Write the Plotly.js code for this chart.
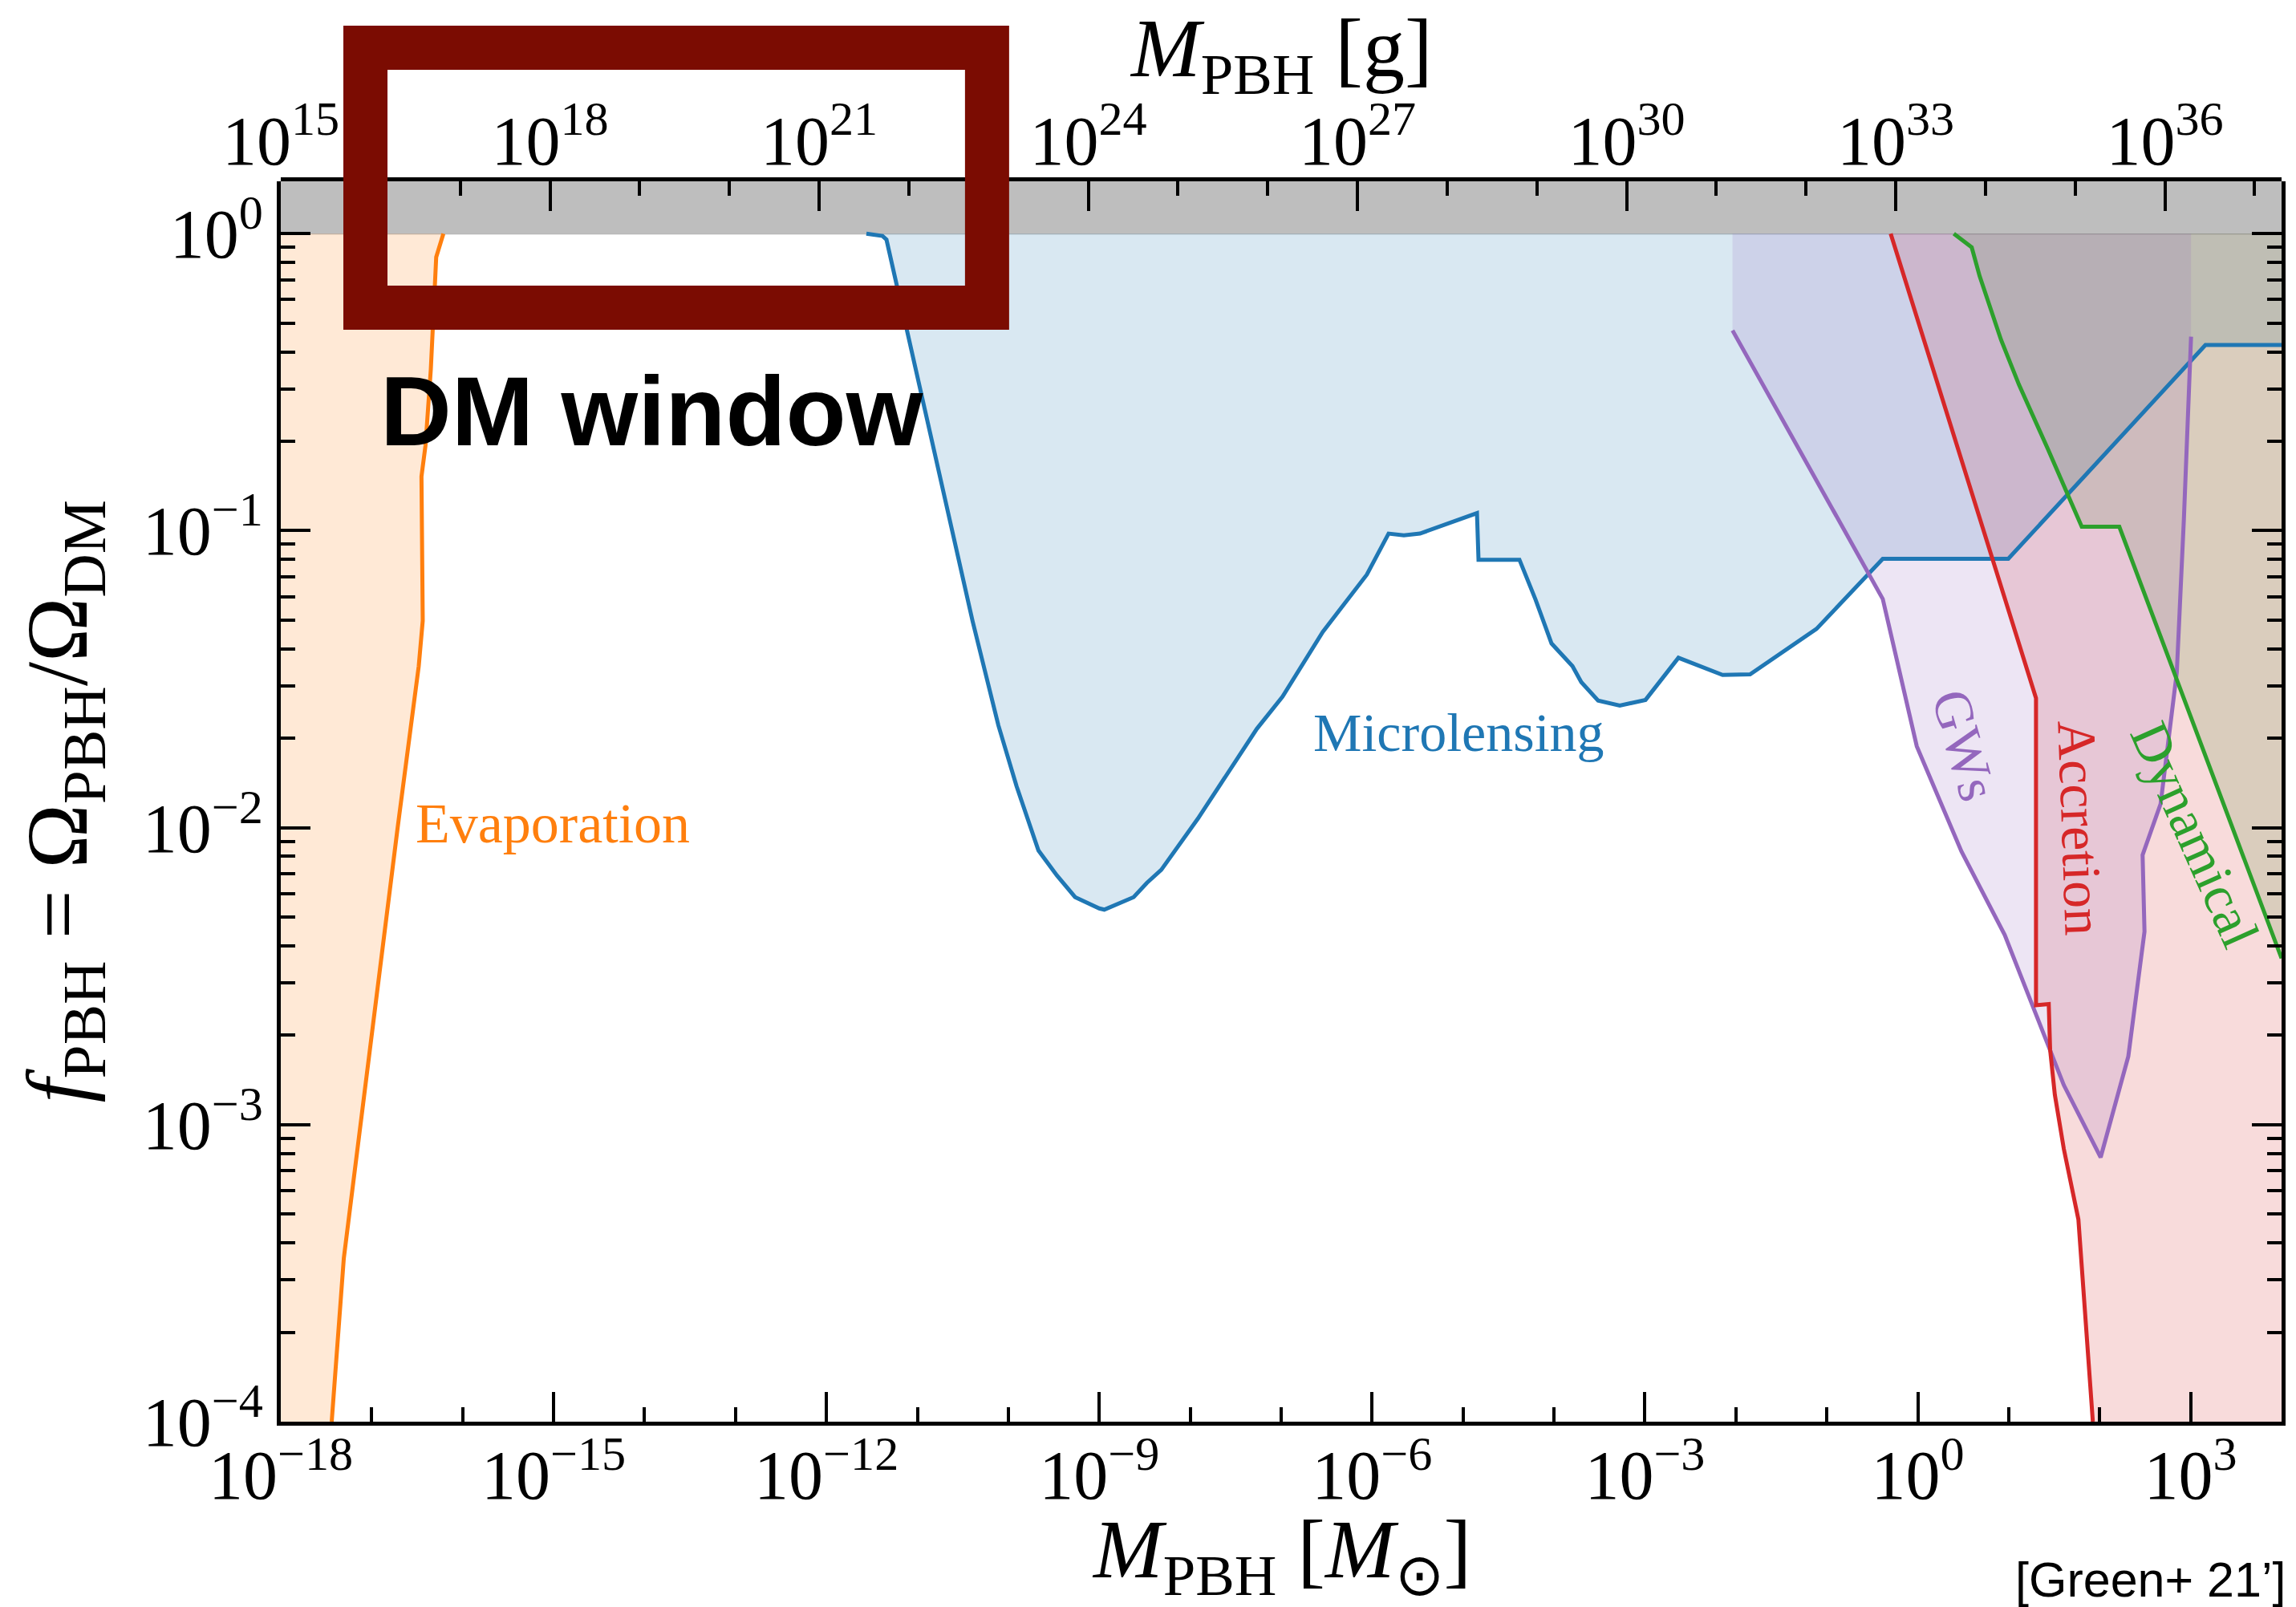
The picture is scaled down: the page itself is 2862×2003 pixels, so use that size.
<!DOCTYPE html>
<html>
<head>
<meta charset="utf-8">
<script src="https://cdn.plot.ly/plotly-3.0.1.min.js"></script>
<style>
html, body { margin: 0; padding: 0; background: #ffffff; }
#chart { width: 2862px; height: 2003px; }
</style>
</head>
<body>
<div id="chart"></div>
<script>
// ---------------- DATA (log10 values) ----------------
// x: log10(M_PBH / M_sun), y: log10(f_PBH)
const evapLogM = [-16.212, -16.291, -16.306, -16.350, -16.409, -16.453, -16.439, -16.483, -16.715, -17.015, -17.307, -17.440];
const evapLogF = [0.000, -0.079, -0.176, -0.456, -0.714, -0.818, -1.303, -1.456, -2.000, -2.726, -3.450, -4.000];

const mlLogM = [-11.561, -11.384, -11.340, -10.802, -10.393, -10.110, -9.910, -9.669, -9.466, -9.266, -9.000, -8.945, -8.622, -8.477, -8.318, -7.912, -7.629, -7.267, -6.985, -6.543, -6.058, -5.819, -5.651, -5.474, -4.847, -4.830, -4.380, -4.203, -4.027, -3.797, -3.700, -3.515, -3.277, -2.994, -2.632, -2.146, -1.844, -1.114, -0.385, 0.995, 3.163, 4.000];
const mlLogF = [0.000, -0.008, -0.020, -0.749, -1.305, -1.655, -1.860, -2.077, -2.161, -2.234, -2.272, -2.276, -2.234, -2.186, -2.142, -1.968, -1.836, -1.667, -1.559, -1.341, -1.148, -1.010, -1.016, -1.010, -0.941, -1.098, -1.098, -1.232, -1.380, -1.456, -1.510, -1.572, -1.589, -1.570, -1.428, -1.486, -1.484, -1.331, -1.095, -1.095, -0.375, -0.375];

const gwLogM = [-2.037, -0.385, -0.011, 0.480, 0.956, 1.448, 1.606, 2.011, 2.315, 2.493, 2.472, 2.670, 2.848, 2.926, 3.005];
const gwLogF = [-0.326, -1.230, -1.726, -2.080, -2.361, -2.749, -2.867, -3.110, -2.770, -2.350, -2.092, -1.920, -1.478, -0.961, -0.347];

const accLogM = [-0.298, 1.300, 1.300, 1.440, 1.455, 1.507, 1.606, 1.766, 1.925];
const accLogF = [0.000, -1.564, -2.598, -2.594, -2.747, -2.899, -3.082, -3.319, -4.000];

const dynLogM = [0.396, 0.593, 0.680, 0.916, 1.113, 1.429, 1.803, 2.216, 4.000];
const dynLogF = [0.000, -0.046, -0.143, -0.358, -0.509, -0.724, -0.987, -0.987, -2.440];

// excluded band f_PBH > 1
const excludedBand = [1, 1.5];

// axis ranges (log10) and tick exponents
const xRangeLog = [-18, 4];
const x2RangeLog = [15, 37.3];
const yRangeLog = [-4, Math.log10(1.5)];
const xMajorExp = [-18, -15, -12, -9, -6, -3, 0, 3];
const x2MajorExp = [15, 18, 21, 24, 27, 30, 33, 36];
const yMajorExp = [-4, -3, -2, -1, 0];

// constraint labels
const labelTexts = ['Evaporation', 'Microlensing', 'GWs', 'Accretion', 'Dynamical'];

// ---------------- BUILD ----------------
const p10 = a => a.map(v => Math.pow(10, v));
const supLabel = e => '10<sup>' + (e < 0 ? '\u2212' + (-e) : String(e)) + '</sup>';

function range(a, b) { const r = []; for (let i = a; i <= b; i++) r.push(i); return r; }
const xMinorVals = p10(range(xRangeLog[0], xRangeLog[1]));
const x2MinorVals = p10(range(15, 37));
const yMinorVals = [];
for (let e = yRangeLog[0]; e < 0; e++) for (let k = 2; k <= 9; k++) yMinorVals.push(k * Math.pow(10, e));

const C = {
  orange: '#ff7f0e', blue: '#1f77b4', green: '#2ca02c', red: '#d62728', purple: '#9467bd'
};
const A = 0.17;
const rgba = (hex, a) => {
  const n = parseInt(hex.slice(1), 16);
  return 'rgba(' + ((n >> 16) & 255) + ',' + ((n >> 8) & 255) + ',' + (n & 255) + ',' + a + ')';
};

function fillTrace(xs, ys, color, alpha) {
  return { type: 'scatter', mode: 'lines', x: p10(xs), y: p10(ys), fill: 'toself',
    fillcolor: rgba(color, alpha), line: { width: 0, color: 'rgba(0,0,0,0)' }, hoverinfo: 'skip', showlegend: false };
}
function lineTrace(xs, ys, color) {
  return { type: 'scatter', mode: 'lines', x: p10(xs), y: p10(ys),
    line: { width: 5, color: color }, hoverinfo: 'skip', showlegend: false };
}
const last = a => a[a.length - 1];
const bandLog = excludedBand.map(Math.log10);

const traces = [
  // grey excluded band (f_PBH > 1)
  fillTrace([xRangeLog[0], xRangeLog[1], xRangeLog[1], xRangeLog[0]], [bandLog[0], bandLog[0], bandLog[1], bandLog[1]], '#bebebe', 1),
  fillTrace(evapLogM.concat([xRangeLog[0], xRangeLog[0]]), evapLogF.concat([yRangeLog[0], 0]), C.orange, A),
  fillTrace(mlLogM.concat([last(mlLogM)]), mlLogF.concat([0]), C.blue, A),
  fillTrace(dynLogM.concat([last(dynLogM)]), dynLogF.concat([0]), C.green, A),
  fillTrace(accLogM.concat([xRangeLog[1], xRangeLog[1]]), accLogF.concat([yRangeLog[0], 0]), C.red, A),
  fillTrace(gwLogM.concat([last(gwLogM), gwLogM[0]]), gwLogF.concat([0, 0]), C.purple, A),
  lineTrace(evapLogM, evapLogF, C.orange),
  lineTrace(mlLogM, mlLogF, C.blue),
  lineTrace(gwLogM, gwLogF, C.purple),
  lineTrace(accLogM, accLogF, C.red),
  lineTrace(dynLogM, dynLogF, C.green),
  // invisible helper so that the gram (top) axis subplot is drawn
  { type: 'scatter', mode: 'lines', x: p10(x2RangeLog), y: [0, 1], xaxis: 'x2', yaxis: 'y2',
    line: { width: 0, color: 'rgba(0,0,0,0)' }, hoverinfo: 'skip', showlegend: false }
];

const serif = 'Liberation Serif, Times New Roman, serif';
const sans = 'Liberation Sans, Arial, Helvetica, sans-serif';
const tickFont = { family: serif, size: 86, color: '#000' };

const axisCommon = {
  type: 'log', tickmode: 'array', ticks: 'inside', ticklen: 37, tickwidth: 4, tickcolor: '#000',
  showline: true, linewidth: 5, linecolor: '#000', showgrid: false, zeroline: false, tickfont: tickFont,
  layer: 'above traces'
};
const minorCommon = { tickmode: 'array', ticks: 'inside', ticklen: 18, tickwidth: 4, tickcolor: '#000', showgrid: false };

const layout = {
  width: 2862, height: 2003,
  margin: { l: 350, r: 18, t: 226, b: 231, pad: 0 },
  paper_bgcolor: '#ffffff', plot_bgcolor: 'rgba(0,0,0,0)',
  showlegend: false,
  font: { family: serif, color: '#000' },
  xaxis: Object.assign({}, axisCommon, {
    range: xRangeLog, tickvals: p10(xMajorExp), ticktext: xMajorExp.map(supLabel), mirror: false,
    ticklabelstandoff: -12, domain: [0, 1], anchor: 'y',
    minor: Object.assign({ tickvals: xMinorVals }, minorCommon)
  }),
  xaxis2: Object.assign({}, axisCommon, {
    range: x2RangeLog, side: 'top', anchor: 'y2', domain: [0, 1], mirror: false,
    tickvals: p10(x2MajorExp), ticktext: x2MajorExp.map(supLabel),
    ticklabelstandoff: -18,
    minor: Object.assign({ tickvals: x2MinorVals }, minorCommon)
  }),
  yaxis: Object.assign({}, axisCommon, {
    range: yRangeLog, tickvals: p10(yMajorExp), ticktext: yMajorExp.map(supLabel), mirror: 'ticks',
    domain: [0, 1], anchor: 'x',
    minor: Object.assign({ tickvals: yMinorVals }, minorCommon)
  }),
  yaxis2: {
    domain: [0, 1], anchor: 'x2', range: [0, 1], visible: false, showline: false, showgrid: false,
    zeroline: false, showticklabels: false, ticks: ''
  },
  shapes: [
    { type: 'line', xref: 'paper', yref: 'y', x0: 0, x1: 1, y0: excludedBand[0], y1: excludedBand[0],
      line: { width: 2, color: 'rgba(150,150,150,0.7)' }, layer: 'below' },
    // hand-drawn highlight box around the DM window
    { type: 'rect', xref: 'paper', yref: 'paper', x0: 0.0423, x1: 0.3530, y0: 0.8981, y1: 1.1077,
      fillcolor: 'rgba(0,0,0,0)', line: { width: 55, color: '#7b0c02' }, layer: 'above' }
  ],
  annotations: [
    { xref: 'paper', yref: 'paper', x: 0.5, y: -0.108, xanchor: 'center', yanchor: 'middle', showarrow: false,
      text: '<i>M</i><sub>PBH</sub> [<i>M</i><sub>\u2299</sub>]', font: { family: serif, size: 104, color: '#000' } },
    { xref: 'paper', yref: 'paper', x: 0.5, y: 1.1025, xanchor: 'center', yanchor: 'middle', showarrow: false,
      text: '<i>M</i><sub>PBH</sub> [g]', font: { family: serif, size: 104, color: '#000' } },
    { xref: 'paper', yref: 'paper', x: -0.1085, y: 0.5, xanchor: 'center', yanchor: 'middle', showarrow: false, textangle: -90,
      text: '<i>f</i><sub>PBH</sub> = \u03a9<sub>PBH</sub>/\u03a9<sub>DM</sub>', font: { family: serif, size: 108, color: '#000' } },
    { xref: 'paper', yref: 'paper', x: 1.0028, y: -0.1275, xanchor: 'right', yanchor: 'middle', showarrow: false,
      text: '[Green+ 21\u2019]', font: { family: sans, size: 61, color: '#000' } },
    { xref: 'paper', yref: 'paper', x: 0.0489, y: 0.815, xanchor: 'left', yanchor: 'middle', showarrow: false,
      text: '<b>DM window</b>', font: { family: sans, size: 123, color: '#000' } },
    { xref: 'paper', yref: 'paper', x: 0.0666, y: 0.4825, xanchor: 'left', yanchor: 'middle', showarrow: false,
      text: labelTexts[0], font: { family: serif, size: 70, color: C.orange } },
    { xref: 'paper', yref: 'paper', x: 0.589, y: 0.5556, xanchor: 'center', yanchor: 'middle', showarrow: false,
      text: labelTexts[1], font: { family: serif, size: 68, color: C.blue } },
    { xref: 'paper', yref: 'paper', x: 0.8416, y: 0.5453, xanchor: 'center', yanchor: 'middle', showarrow: false, textangle: 74,
      text: labelTexts[2], font: { family: serif, size: 68, color: C.purple } },
    { xref: 'paper', yref: 'paper', x: 0.8994, y: 0.4787, xanchor: 'center', yanchor: 'middle', showarrow: false, textangle: 88,
      text: labelTexts[3], font: { family: serif, size: 68, color: C.red } },
    { xref: 'paper', yref: 'paper', x: 0.9567, y: 0.4735, xanchor: 'center', yanchor: 'middle', showarrow: false, textangle: 66,
      text: labelTexts[4], font: { family: serif, size: 68, color: C.green } }
  ]
};

Plotly.newPlot('chart', traces, layout, { staticPlot: true, displayModeBar: false });
</script>
</body>
</html>
